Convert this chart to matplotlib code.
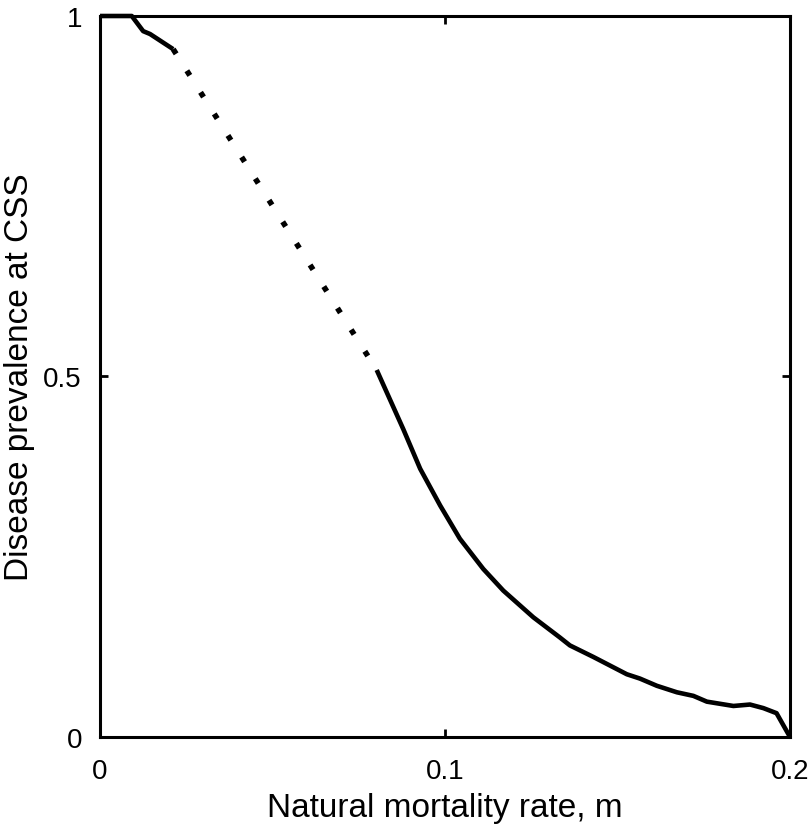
import matplotlib as mpl
mpl.use('Agg')
import matplotlib.pyplot as plt

# CSS prevalence vs natural mortality
m_low = [0.0, 0.0092, 0.0125, 0.0145, 0.0212]
p_low = [1.0, 1.0, 0.979, 0.975, 0.954]

m_mid = [0.0212, 0.0802]
p_mid = [0.954, 0.509]

m_high = [0.0802, 0.0879, 0.0928, 0.0986, 0.1043, 0.1111, 0.1169, 0.1256,
          0.1333, 0.1362, 0.1430, 0.1527, 0.1565, 0.1614, 0.1672, 0.1720,
          0.1759, 0.1836, 0.1884, 0.1923, 0.1961, 0.2]
p_high = [0.509, 0.427, 0.372, 0.321, 0.275, 0.233, 0.203, 0.166,
          0.138, 0.127, 0.111, 0.087, 0.081, 0.071, 0.062, 0.057,
          0.049, 0.043, 0.045, 0.040, 0.033, 0.0]

x_ticks = [0, 0.1, 0.2]
x_labels = ['0', '0.1', '0.2']
y_ticks = [0, 0.5, 1]
y_labels = ['0', '0.5', '1']

plt.rcParams['font.family'] = ['Liberation Sans', 'DejaVu Sans']

fig = plt.figure(figsize=(8.1, 8.29), dpi=100)
ax = fig.add_axes([0.1235, 0.1098, 0.8518, 0.8697])

ax.plot(m_low, p_low, color='black', lw=3.3, solid_capstyle='butt', clip_on=False)
ax.plot(m_mid, p_mid, color='black', lw=4, linestyle=(0, (1, 3.6)),
        dash_capstyle='butt')
ax.plot(m_high, p_high, color='black', lw=3.3, solid_capstyle='butt', clip_on=False)

ax.set_xlim(0, 0.2)
ax.set_ylim(0, 1)
ax.set_xticks(x_ticks)
ax.set_xticklabels(x_labels)
ax.set_yticks(y_ticks)
ax.set_yticklabels(y_labels)
ax.tick_params(direction='in', length=6, width=2, labelsize=20,
               top=True, right=True)
ax.tick_params(axis='x', pad=15)
ax.tick_params(axis='y', pad=13)
for s in ax.spines.values():
    s.set_linewidth(2.2)

ax.set_xlabel('Natural mortality rate, m', fontsize=24, labelpad=6)
ax.set_ylabel('Disease prevalence at CSS', fontsize=24, labelpad=6)

fig.savefig('out.png', dpi=100)
